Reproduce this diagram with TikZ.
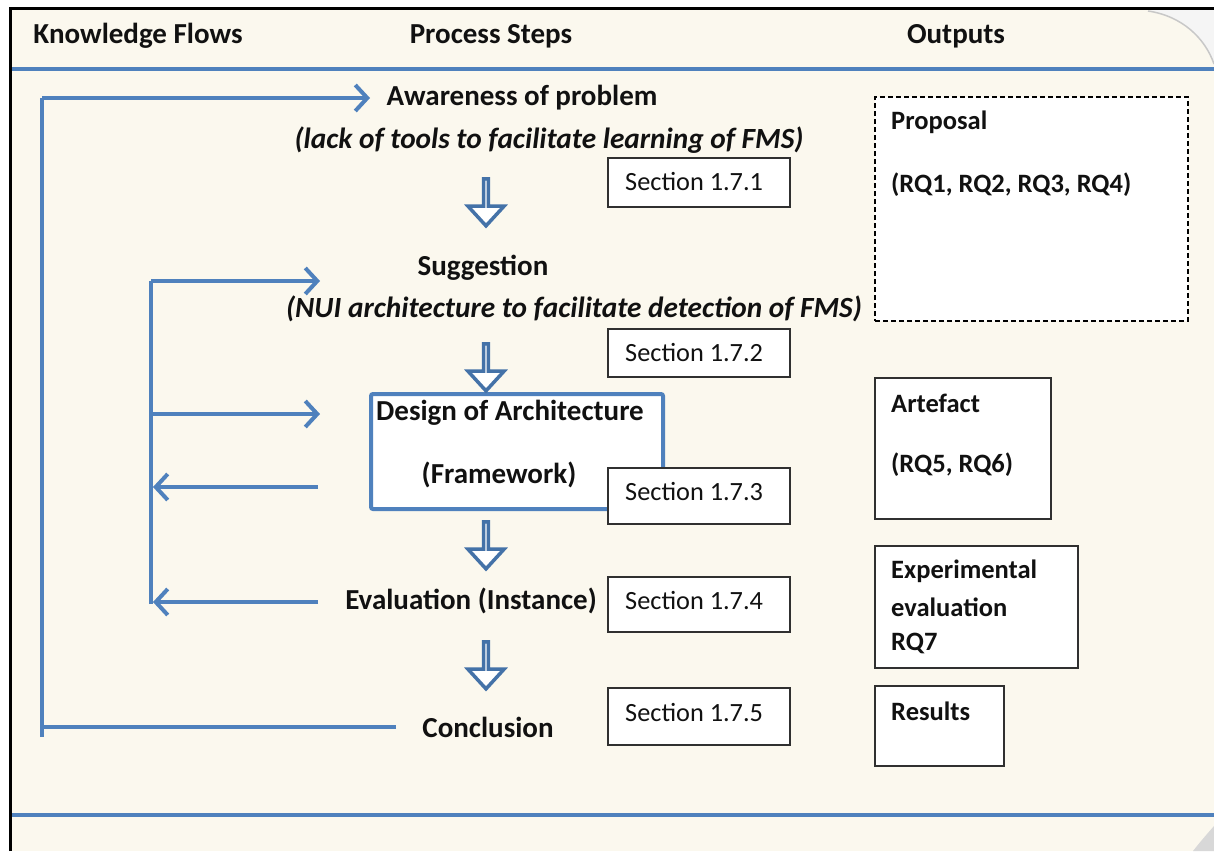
\documentclass[tikz,border=0pt]{standalone}
\usepackage{fontspec}
\setmainfont{Carlito}
\usetikzlibrary{arrows.meta,shapes.arrows}

\definecolor{cream}{HTML}{FBF8EE}
\definecolor{flowblue}{HTML}{4F81BD}
\definecolor{arrowedge}{HTML}{4472A8}
\definecolor{boxline}{HTML}{303030}
\definecolor{inktext}{HTML}{111111}
\definecolor{curlgray}{HTML}{C8C8C8}

\tikzset{
  hdr/.style={font=\fontsize{29}{33}\selectfont\bfseries, text=inktext, inner sep=0pt},
  steptext/.style={font=\fontsize{29}{33}\selectfont\bfseries, text=inktext, inner sep=0pt},
  stepnote/.style={font=\fontsize{29.3}{33}\selectfont\bfseries\itshape, text=inktext, inner sep=0pt},
  sectext/.style={font=\fontsize{26.3}{30}\selectfont, text=inktext, inner sep=0pt, anchor=west},
  outtext/.style={font=\fontsize{26.5}{30}\selectfont\bfseries, text=inktext, inner sep=0pt, anchor=west},
  secbox/.style={draw=boxline, line width=2pt, fill=white, anchor=north west, inner sep=0pt},
  outbox/.style={draw=boxline, line width=2pt, fill=white, anchor=north west, inner sep=0pt},
  rule/.style={draw=flowblue, line width=4.5pt},
  flow/.style={draw=flowblue, line width=4pt},
  flowarrow/.style={flow, -{Straight Barb[length=12pt,width=26pt,line width=4pt]}},
  blockarrow/.style={single arrow, draw=arrowedge, fill=white, line width=3.5pt,
    rotate=-90, minimum height=47pt, minimum width=36pt,
    single arrow head extend=11pt, single arrow tip angle=85, inner sep=0pt},
}

\begin{document}
\begin{tikzpicture}[x=1pt,y=-1pt]
\useasboundingbox (0,0) rectangle (1214,851);

% page and frame
\fill[white] (0,0) rectangle (1214,851);
\fill[cream] (10,9) rectangle (1214,851);
% curled corners
\fill[white!96!black] (1148,10) .. controls (1182,16) and (1205,38) .. (1214,64) -- (1214,10) -- cycle;
\draw[curlgray, line width=1.5pt] (1148,11) .. controls (1182,16) and (1205,38) .. (1214,64);
\fill[curlgray!70] (1193,851) .. controls (1200,842) and (1207,834) .. (1214,826) -- (1214,851) -- cycle;
\draw[black, line width=3pt] (10,851) -- (10,9) -- (1214,9);

% header and footer rules
\draw[rule] (12,69) -- (1214,69);
\draw[rule] (12,815) -- (1214,815);

% column headings
\node[hdr] (hKnow) at (138,36) {Knowledge Flows};
\node[hdr] (hProc) at (491,36) {Process Steps};
\node[hdr] (hOut) at (956,36) {Outputs};

% process steps
\node[steptext] (aware) at (522,98) {Awareness of problem};
\node[stepnote] (awareN) at (549,140) {(lack of tools to facilitate learning of FMS)};
\node[steptext] (sugg) at (483,268) {Suggestion};
\node[stepnote] (suggN) at (574,309) {(NUI architecture to facilitate detection of FMS)};
\node[draw=flowblue, line width=4pt, fill=white, rounded corners=2pt,
      minimum width=292pt, minimum height=115pt, anchor=north west] (design) at (369,392) {};
\node[steptext] (designT) at (510,413) {Design of Architecture};
\node[steptext] (designF) at (499,475) {(Framework)};
\node[steptext] (eval) at (471,601) {Evaluation (Instance)};
\node[steptext] (concl) at (488,727) {Conclusion};

% block arrows between steps
\node[blockarrow] (ba1) at (486,201) {};
\node[blockarrow] (ba2) at (486,366) {};
\node[blockarrow] (ba3) at (486,544) {};
\node[blockarrow] (ba4) at (486,664) {};

% section references
\node[secbox, minimum width=182pt, minimum height=49pt] (s1) at (607,157) {};
\node[sectext] at ([xshift=18pt,yshift=-25pt]s1.north west) {Section 1.7.1};
\node[secbox, minimum width=182pt, minimum height=48pt] (s2) at (607,328) {};
\node[sectext] at ([xshift=18pt,yshift=-25pt]s2.north west) {Section 1.7.2};
\node[secbox, minimum width=182pt, minimum height=56pt] (s3) at (607,467) {};
\node[sectext] at ([xshift=18pt,yshift=-25pt]s3.north west) {Section 1.7.3};
\node[secbox, minimum width=182pt, minimum height=55pt] (s4) at (607,576) {};
\node[sectext] at ([xshift=18pt,yshift=-25pt]s4.north west) {Section 1.7.4};
\node[secbox, minimum width=182pt, minimum height=57pt] (s5) at (607,687) {};
\node[sectext] at ([xshift=18pt,yshift=-25pt]s5.north west) {Section 1.7.5};

% outputs
\node[outbox, draw=black, line width=1.5pt, dash pattern=on 5pt off 3pt,
      minimum width=313pt, minimum height=224pt] (oProp) at (874,96) {};
\node[outtext] at ([xshift=17pt,yshift=-26pt]oProp.north west) {Proposal};
\node[outtext] at ([xshift=17pt,yshift=-89pt]oProp.north west) {(RQ1, RQ2, RQ3, RQ4)};
\node[outbox, minimum width=176pt, minimum height=141pt] (oArt) at (874,377) {};
\node[outtext] at ([xshift=17pt,yshift=-26pt]oArt.north west) {Artefact};
\node[outtext] at ([xshift=17pt,yshift=-88pt]oArt.north west) {(RQ5, RQ6)};
\node[outbox, minimum width=203pt, minimum height=122pt] (oExp) at (874,545) {};
\node[outtext] at ([xshift=17pt,yshift=-26pt]oExp.north west) {Experimental};
\node[outtext] at ([xshift=17pt,yshift=-62pt]oExp.north west) {evaluation};
\node[outtext] at ([xshift=17pt,yshift=-98pt]oExp.north west) {RQ7};
\node[outbox, minimum width=129pt, minimum height=80pt] (oRes) at (874,685) {};
\node[outtext] at ([xshift=17pt,yshift=-26pt]oRes.north west) {Results};

% knowledge flows: outer loop
\coordinate (kTop) at (42,98);
\coordinate (kBot) at (42,737);
\coordinate (kIn) at (370,98);
\draw[flow] (kBot) -- (kTop);
\draw[flowarrow] (kTop) -- (kIn);
\draw[flow] ([xshift=-26pt]concl.west) -- (concl.west -| kBot);

% knowledge flows: inner loop
\coordinate (iTop) at (151,281);
\coordinate (iBot) at (151,604);
\coordinate (iSugg) at (320,281);
\coordinate (iDesignIn) at (320,414);
\coordinate (iDesignOut) at (318,487);
\coordinate (iEvalOut) at (318,602);
\draw[flow] (iBot) -- (iTop);
\draw[flowarrow] (iTop) -- (iSugg);
\draw[flowarrow] (iDesignIn -| iTop) -- (iDesignIn);
\draw[flowarrow] (iDesignOut) -- ([xshift=2pt]iDesignOut -| iTop);
\draw[flowarrow] (iEvalOut) -- ([xshift=2pt]iEvalOut -| iTop);
\end{tikzpicture}
\end{document}
